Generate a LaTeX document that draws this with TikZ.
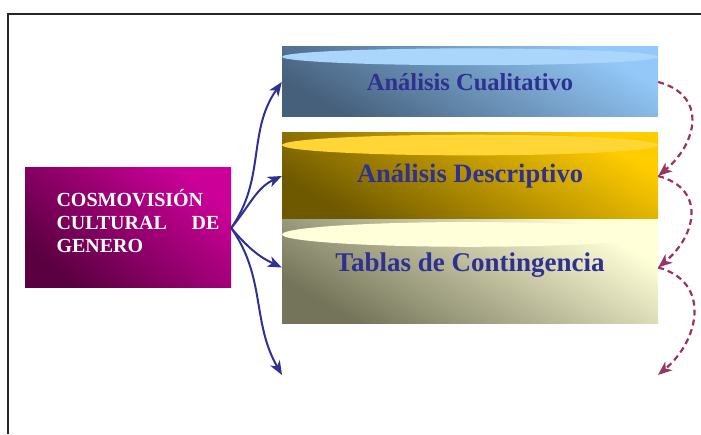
\documentclass[tikz,border=0pt]{standalone}
\usepackage{fontspec}
\setmainfont{Liberation Serif}
\usetikzlibrary{arrows.meta, positioning}

\definecolor{txtblue}{HTML}{2E3192}
\definecolor{dashred}{HTML}{993366}
\definecolor{magtop}{HTML}{CC0099}
\definecolor{magbot}{HTML}{5A0040}
\definecolor{bluetop}{HTML}{93C8F8}
\definecolor{bluebot}{HTML}{46607C}
\definecolor{bluecap}{HTML}{AAD6FC}
\definecolor{goldtop}{HTML}{FFCC00}
\definecolor{goldbot}{HTML}{6E5800}
\definecolor{goldcap}{HTML}{FFD635}
\definecolor{paletop}{HTML}{FFFFD8}
\definecolor{palebot}{HTML}{74745A}
\definecolor{palecap}{HTML}{FFFFDA}

\begin{document}
\begin{tikzpicture}[
    x=1pt, y=1pt,
    frame/.style={draw=black!85, line width=2pt},
    cosmo/.style={rectangle, minimum width=206pt, minimum height=120pt, inner sep=0pt,
        top color=magtop, bottom color=magbot, shading angle=-40},
    cosmotext/.style={text=white, text width=163pt, align=left,
        font=\bfseries\fontsize{20}{23}\selectfont},
    bar/.style n args={4}{rectangle, minimum width=376pt, minimum height=#1, inner sep=0pt,
        top color=#2, bottom color=#3, shading angle=-30,
        path picture={\fill[#4] ([yshift=-0.14*#1]path picture bounding box.north)
            ellipse [x radius=188pt, y radius=0.12*#1];}},
    bartext/.style={text=txtblue, font=\bfseries\fontsize{#1}{30}\selectfont},
    bartext/.default=26,
    fan/.style={draw=txtblue, line width=2pt, -{Stealth[length=14pt, width=11pt, inset=4pt]}},
    hop/.style={draw=dashred, line width=2.2pt, dash pattern=on 6pt off 4pt,
        -{Stealth[length=14pt, width=11pt, inset=4pt]}, looseness=1.4}
]
    \useasboundingbox (0,0) rectangle (701,434);

    % frame
    \draw[frame] (8,0) -- (8,419.5) -- (701,419.5);

    % left box
    \node[cosmo, label={[cosmotext, xshift=10pt, yshift=7pt]center:{COSMOVISIÓN\\CULTURAL\hfill DE\\GENERO}}] (cosmo) at (128,206) {};

    % bars
    \node[bar={70pt}{bluetop}{bluebot}{bluecap}, label={[bartext=24.5]center:Análisis Cualitativo}] (cuali) at (470,352) {};
    \node[bar={86pt}{goldtop}{goldbot}{goldcap}, label={[bartext=26.5]center:Análisis Descriptivo}] (desc) at (470,258) {};
    \node[bar={103pt}{paletop}{palebot}{palecap}, label={[bartext=27, yshift=6pt]center:Tablas de Contingencia}] (tablas) at (470,162.5) {};

    % free ends below
    \coordinate (lowL) at (282,59);
    \coordinate (lowR) at (658,59);

    % arrows from the box
    \draw[fan] (cosmo.east) to[out=55, in=235] (cuali.west);
    \draw[fan] (cosmo.east) to[out=50, in=205] (desc.west);
    \draw[fan] (cosmo.east) to[out=-50, in=155] ([yshift=4pt]tablas.west);
    \draw[fan] (cosmo.east) to[out=-55, in=120] (lowL);

    % dashed hops on the right
    \draw[hop] (cuali.east) to[out=-15, in=40] (desc.east);
    \draw[hop] (desc.east) to[out=-15, in=40] ([yshift=4pt]tablas.east);
    \draw[hop] ([yshift=4pt]tablas.east) to[out=-15, in=40, looseness=1.3] (lowR);
\end{tikzpicture}
\end{document}
